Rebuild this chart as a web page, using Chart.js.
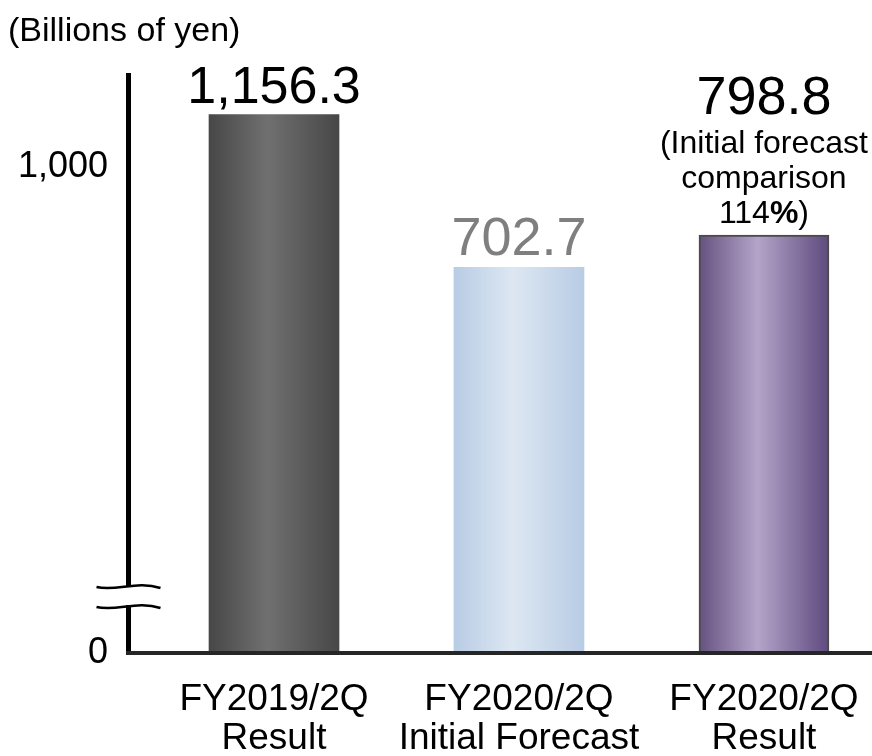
<!DOCTYPE html>
<html>
<head>
<meta charset="utf-8">
<title>FY2020/2Q Result</title>
<script src="https://cdn.jsdelivr.net/npm/chart.js@4.4.0/dist/chart.umd.min.js"></script>
<style>
  html, body { margin: 0; padding: 0; background: #fff; overflow: hidden; }
  #wrap { width: 872px; height: 756px; }
</style>
</head>
<body>
<div id="wrap"><canvas id="grafica" width="872" height="756"></canvas></div>
<script>
// datos del gráfico
const categories = [["FY2019/2Q", "Result"], ["FY2020/2Q", "Initial Forecast"], ["FY2020/2Q", "Result"]];
const values = [1156.3, 702.7, 798.8];
const notes = [[], [], ["(Initial forecast", "comparison", "114%)"]];
const yTicks = [0, 1000];
const yTickLabels = ["0", "1,000"];
const unitLabel = "(Billions of yen)";

const FONT = '"Liberation Sans", Arial, sans-serif';
// el eje está cortado: el "0" se dibuja en el mínimo de la escala
const Y_MIN = -442;
const Y_MAX = 1274;
const BAR_WIDTH = 130;

const barStops = [
    ["#474747", "#707070", "#474747"],
    ["#b8cce4", "#dde7f2", "#b8cce4"],
    ["#65517f", "#b4a4c9", "#5e4a7e"]
];
const valueColors = ["#000000", "#7f7f7f", "#000000"];
const valueSizes = [52, 54, 54];
const NOTE_SIZE = 32;

function barFill(context) {
    if (context.type !== "data") return "#888";
    const stops = barStops[context.dataIndex];
    const chart = context.chart;
    const xScale = chart.scales.x;
    if (!xScale || !chart.chartArea) return stops[0];
    const cx = xScale.getPixelForValue(context.parsed.x);
    const g = chart.ctx.createLinearGradient(cx - BAR_WIDTH / 2, 0, cx + BAR_WIDTH / 2, 0);
    g.addColorStop(0, stops[0]);
    g.addColorStop(0.45, stops[1]);
    g.addColorStop(1, stops[2]);
    return g;
}

function drawNoteLine(ctx, text, cx, y) {
    // el "%" va en negrita
    const parts = text.split(/(%)/).filter(p => p.length);
    const fonts = parts.map(p => (p === "%" ? "bold " : "") + NOTE_SIZE + "px " + FONT);
    let total = 0;
    const widths = parts.map((p, k) => {
        ctx.font = fonts[k];
        const w = ctx.measureText(p).width;
        total += w;
        return w;
    });
    let x = cx - total / 2;
    ctx.textAlign = "left";
    parts.forEach((p, k) => {
        ctx.font = fonts[k];
        ctx.fillText(p, x, y);
        x += widths[k];
    });
}

const valueLabels = {
    id: "valueLabels",
    afterDatasetsDraw(chart) {
        const ctx = chart.ctx;
        const meta = chart.getDatasetMeta(0);
        meta.data.forEach((bar, i) => {
            let y = bar.y - 12;
            ctx.save();
            ctx.textBaseline = "alphabetic";
            ctx.fillStyle = "#000";
            const lines = notes[i];
            for (let k = lines.length - 1; k >= 0; k--) {
                drawNoteLine(ctx, lines[k], bar.x, y);
                y -= 35;
            }
            if (lines.length) y -= 4;
            ctx.textAlign = "center";
            ctx.font = valueSizes[i] + "px " + FONT;
            ctx.fillStyle = valueColors[i];
            const txt = values[i].toLocaleString("en-US", { minimumFractionDigits: 1, maximumFractionDigits: 1 });
            ctx.fillText(txt, bar.x, y);
            ctx.restore();
        });
    }
};

const axisBreak = {
    id: "axisBreak",
    afterDraw(chart) {
        const { ctx, chartArea } = chart;
        const x = chartArea.left + 0.5;
        const y1 = chartArea.bottom - 67;
        const y2 = chartArea.bottom - 47;
        ctx.save();
        ctx.fillStyle = "#fff";
        ctx.fillRect(x - 4, y1 + 1, 8, y2 - y1 - 2);
        ctx.strokeStyle = "#000";
        ctx.lineWidth = 2.5;
        [y1, y2].forEach(y => {
            ctx.beginPath();
            ctx.moveTo(x - 32, y + 1);
            ctx.bezierCurveTo(x - 12, y + 6, x + 8, y - 6, x + 32, y + 2);
            ctx.stroke();
        });
        ctx.restore();
    }
};

function prepararConfig() {
    return {
        type: "bar",
        data: {
            datasets: [{
                data: values.map((v, i) => ({ x: i, y: v })),
                base: Y_MIN,
                backgroundColor: barFill,
                borderColor: ["#5a5a5a", "#b8cce4", "#4a4a4a"],
                borderWidth: [0, 0, 2],
                barThickness: BAR_WIDTH
            }]
        },
        options: {
            responsive: false,
            devicePixelRatio: 1,
            animation: false,
            layout: { padding: { left: 8, right: 0, top: 0, bottom: 0 } },
            plugins: {
                legend: { display: false },
                tooltip: { enabled: false },
                title: {
                    display: true,
                    text: unitLabel,
                    align: "start",
                    color: "#000",
                    font: { family: FONT, size: 34, weight: "normal", lineHeight: 1.2 },
                    padding: { top: 11, bottom: 23.2 }
                }
            },
            scales: {
                x: {
                    type: "linear",
                    min: -0.596,
                    max: 2.441,
                    offset: false,
                    grid: { display: false, drawTicks: false },
                    border: { display: true, color: "#262626", width: 4, z: 1 },
                    afterBuildTicks: s => { s.ticks = categories.map((c, i) => ({ value: i })); },
                    afterFit: s => {
                        s.height = 103;
                        s.paddingLeft = 0;
                        s.paddingRight = 0;
                    },
                    ticks: {
                        autoSkip: false,
                        maxRotation: 0,
                        padding: 28,
                        color: "#000",
                        font: { family: FONT, size: 37, lineHeight: 1.04 },
                        callback: (v, i) => categories[i]
                    }
                },
                y: {
                    min: Y_MIN,
                    max: Y_MAX,
                    grid: { display: false, drawTicks: false },
                    border: { display: true, color: "#000", width: 5 },
                    afterBuildTicks: s => { s.ticks = yTicks.map(v => ({ value: v === 0 ? Y_MIN : v })); },
                    afterFit: s => { s.width = 120; },
                    ticks: {
                        autoSkip: false,
                        padding: 20,
                        color: "#000",
                        font: { family: FONT, size: 36 },
                        callback: (v, i) => yTickLabels[i]
                    }
                }
            }
        },
        plugins: [valueLabels, axisBreak]
    };
}

function renderGrafica() {
    const chartDOM = document.getElementById("grafica");
    new Chart(chartDOM, prepararConfig());
}

renderGrafica();
</script>
</body>
</html>
